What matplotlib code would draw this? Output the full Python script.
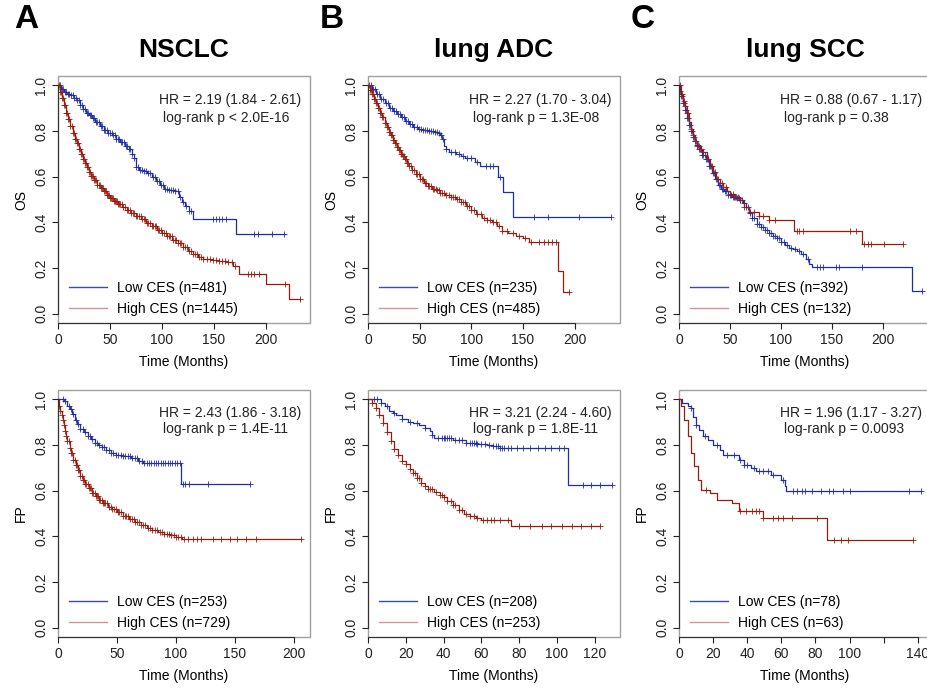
import matplotlib
matplotlib.use('Agg')
import matplotlib.pyplot as plt
from matplotlib.patches import Rectangle
from matplotlib.lines import Line2D
import numpy as np

plt.rcParams['font.family'] = ['Liberation Sans', 'DejaVu Sans']

BLUE = '#1f2fa0'
RED = '#9a1a0e'
LEG_BLUE = '#3a4ab8'
LEG_RED = '#d49494'

# ---------------- A  NSCLC  OS
a_os_low_t = [0, 3, 6, 9, 12, 15, 18, 21, 24, 27, 30, 33, 36, 40, 44, 48, 52, 56, 60, 64, 68, 71, 73, 75, 78, 83, 86, 90, 94, 98, 102, 106, 113, 116, 119, 122, 126, 130, 171, 218]
a_os_low_s = [1.0, 0.985, 0.97, 0.96, 0.955, 0.945, 0.935, 0.915, 0.895, 0.88, 0.87, 0.855, 0.84, 0.822, 0.805, 0.79, 0.78, 0.765, 0.75, 0.735, 0.72, 0.70, 0.68, 0.64, 0.63, 0.625, 0.615, 0.60, 0.582, 0.565, 0.546, 0.54, 0.539, 0.51, 0.488, 0.47, 0.45, 0.415, 0.349, 0.349]
a_os_low_c = [2, 3.5, 5, 6.5, 8, 9.5, 11, 12.5, 14, 15.5, 17, 18.5, 20, 21.5, 23, 24.5, 26, 27.5, 29, 30.5, 32, 33.5, 35, 36.5, 38, 39.5, 41, 42.5, 44, 45.5, 47, 48.5, 50, 51.5, 53, 54.5, 56, 57.5, 59, 60.5, 62, 63.5, 65, 66.5, 68, 69.5, 71, 73, 75, 77, 79, 81, 83, 85, 87, 89, 91, 93, 95, 97, 99, 101, 103, 105, 107, 109, 111, 113, 115, 117, 120, 123, 126, 128, 149, 152, 155, 158, 162, 189, 192, 206, 217]
a_os_high_t = [0, 2, 4, 6, 8, 10, 12, 14, 16, 18, 20, 22, 24, 26, 28, 30, 32, 35, 38, 41, 44, 47, 50, 54, 58, 62, 66, 70, 75, 80, 85, 90, 95, 100, 105, 110, 115, 120, 125, 130, 135, 140, 148, 155, 162, 168, 174, 200, 222, 233]
a_os_high_s = [1.0, 0.97, 0.945, 0.915, 0.88, 0.85, 0.82, 0.79, 0.765, 0.745, 0.72, 0.70, 0.677, 0.66, 0.64, 0.62, 0.604, 0.585, 0.565, 0.55, 0.535, 0.52, 0.508, 0.495, 0.48, 0.466, 0.455, 0.443, 0.429, 0.413, 0.397, 0.382, 0.368, 0.354, 0.34, 0.325, 0.308, 0.291, 0.277, 0.263, 0.25, 0.242, 0.235, 0.23, 0.226, 0.21, 0.175, 0.131, 0.066, 0.066]
a_os_high_c = [1, 2, 3, 4, 5, 6, 7, 8, 9, 10, 11, 12, 13, 14, 15, 16, 17, 18, 19, 20, 21, 22, 23, 24, 25, 26, 27, 28, 29, 30, 31, 32, 33, 34, 35, 36, 37, 38, 39, 40, 41, 42, 43, 44, 45, 46, 47, 48, 49, 50, 51, 52, 53, 54, 55, 56, 57, 58, 59, 60, 61.5, 63, 64.5, 66, 67.5, 69, 70.5, 72, 73.5, 75, 76.5, 78, 79.5, 81, 82.5, 84, 85.5, 87, 88.5, 90, 91.5, 93, 94.5, 96, 97.5, 99, 100.5, 102, 103.5, 105, 106.5, 108, 109.5, 111, 112.5, 114, 115.5, 117, 118.5, 120, 122, 124, 126, 128, 130, 132, 134, 136, 138, 140, 143, 146, 149, 152, 155, 158, 161, 164, 167, 170, 183, 186, 189, 193, 218, 233]

# ---------------- B  lung ADC  OS
b_os_low_t = [0, 4, 8, 12, 16, 20, 24, 28, 32, 36, 40, 44, 48, 52, 58, 64, 68, 70, 72, 74, 76, 78, 85, 90, 94, 104, 108, 126, 131, 140, 235]
b_os_low_s = [1.0, 0.985, 0.96, 0.94, 0.92, 0.90, 0.885, 0.875, 0.86, 0.845, 0.83, 0.815, 0.81, 0.805, 0.80, 0.795, 0.79, 0.78, 0.765, 0.735, 0.72, 0.706, 0.699, 0.69, 0.68, 0.665, 0.648, 0.597, 0.531, 0.422, 0.422]
b_os_low_c = [3, 5, 7, 9, 11, 13, 15, 17, 19, 21, 23, 25, 27, 29, 31, 33, 35, 37, 39, 41, 43, 45, 47, 49, 51, 53, 55, 57, 59, 61, 63, 65, 67, 69, 71, 73, 76, 80, 84, 88, 92, 96, 100, 106, 114, 118, 121, 128, 161, 174, 204, 235]
b_os_high_t = [0, 2, 4, 6, 8, 10, 12, 14, 16, 18, 20, 22, 24, 26, 28, 30, 32, 34, 36, 38, 40, 43, 46, 50, 54, 58, 62, 66, 70, 75, 80, 85, 90, 95, 100, 105, 110, 115, 120, 125, 130, 136, 143, 150, 156, 184, 189, 195]
b_os_high_s = [1.0, 0.98, 0.96, 0.94, 0.92, 0.90, 0.88, 0.86, 0.835, 0.815, 0.795, 0.78, 0.76, 0.745, 0.73, 0.715, 0.70, 0.69, 0.675, 0.66, 0.648, 0.63, 0.61, 0.59, 0.57, 0.558, 0.548, 0.54, 0.53, 0.52, 0.51, 0.502, 0.49, 0.473, 0.455, 0.437, 0.42, 0.41, 0.40, 0.385, 0.364, 0.355, 0.342, 0.33, 0.313, 0.189, 0.095, 0.095]
b_os_high_c = [1, 2, 3, 4, 5, 6, 7, 8, 9, 10, 11, 12, 13, 14, 15, 16, 17, 18, 19, 20, 21, 22, 23, 24, 25, 26, 27, 28, 29, 30, 31, 32, 33, 34, 35, 36, 37, 38, 39, 40, 41.5, 43, 44.5, 46, 47.5, 49, 50.5, 52, 53.5, 55, 56.5, 58, 59.5, 61, 62.5, 64, 65.5, 67, 68.5, 70, 72, 74, 76, 78, 80, 82, 84, 86, 88, 90, 92, 94, 96, 98, 100, 103, 106, 109, 112, 115, 118, 121, 124, 127, 130, 135, 140, 146, 152, 158, 166, 170, 174, 178, 182, 195]

# ---------------- C  lung SCC  OS
c_os_low_t = [0, 1, 2, 4, 6, 8, 10, 12, 14, 16, 18, 20, 23, 26, 29, 32, 35, 38, 41, 44, 48, 52, 56, 60, 63, 66, 69, 72, 76, 80, 84, 88, 92, 96, 100, 104, 108, 112, 116, 120, 124, 127, 130, 228, 238]
c_os_low_s = [1.0, 0.975, 0.953, 0.92, 0.89, 0.855, 0.825, 0.80, 0.775, 0.755, 0.74, 0.72, 0.695, 0.675, 0.645, 0.615, 0.59, 0.565, 0.548, 0.535, 0.52, 0.512, 0.505, 0.50, 0.485, 0.466, 0.44, 0.418, 0.395, 0.38, 0.365, 0.355, 0.342, 0.33, 0.312, 0.30, 0.29, 0.284, 0.275, 0.26, 0.24, 0.218, 0.204, 0.102, 0.102]
c_os_low_c = [1, 2, 3, 4, 5, 6, 7, 8, 9, 10, 11, 12, 13, 14, 15, 16, 17, 18, 19, 20, 21, 22, 23, 24, 25, 26, 27, 28, 29, 30, 31.5, 33, 34.5, 36, 37.5, 39, 40.5, 42, 43.5, 45, 46.5, 48, 49.5, 51, 52.5, 54, 55.5, 57, 58.5, 60, 62, 64, 66, 68, 70, 72, 74, 76, 78, 80, 82, 84, 86, 88, 90, 92, 94, 96, 98, 100, 103, 106, 110, 114, 118, 122, 126, 135, 138, 141, 154, 157, 179, 238]
c_os_high_t = [0, 2, 4, 6, 8, 10, 12, 14, 16, 18, 21, 24, 27, 30, 33, 36, 40, 43, 47, 50, 55, 60, 64, 69, 78, 88, 113, 179, 220]
c_os_high_s = [1.0, 0.96, 0.93, 0.91, 0.88, 0.84, 0.808, 0.78, 0.755, 0.735, 0.72, 0.706, 0.675, 0.648, 0.62, 0.59, 0.57, 0.553, 0.535, 0.524, 0.51, 0.50, 0.466, 0.444, 0.429, 0.41, 0.364, 0.306, 0.306]
c_os_high_c = [1, 2, 3, 5, 6, 8, 9, 12, 14, 16, 18, 20, 22, 24, 28, 32, 35, 38, 42, 46, 50, 53, 55, 58, 60, 64, 70, 74, 78, 82, 88, 94, 116, 118, 122, 168, 173, 181, 185, 188, 201, 220]

# ---------------- A  NSCLC  FP
a_fp_low_t = [0, 5, 8, 10, 12, 14, 16, 19, 22, 25, 28, 31, 34, 37, 41, 45, 49, 55, 62, 68, 72, 104, 163]
a_fp_low_s = [1.0, 0.99, 0.97, 0.955, 0.935, 0.91, 0.89, 0.87, 0.855, 0.84, 0.825, 0.81, 0.80, 0.79, 0.779, 0.765, 0.757, 0.75, 0.742, 0.73, 0.72, 0.63, 0.63]
a_fp_low_c = [4, 6, 9, 11, 13, 15, 17, 19, 21, 23, 25, 27, 29, 31, 33, 35, 37, 39, 41, 43, 45, 47, 49, 51, 53, 55, 57, 59, 61, 63, 65, 67, 69, 71, 73, 75, 77, 79, 81, 83, 85, 87, 89, 91, 93, 95, 97, 99, 101, 103, 106, 108, 111, 127, 163]
a_fp_high_t = [0, 1, 2, 3, 4, 5, 6, 7, 8, 10, 11, 13, 15, 17, 19, 21, 23, 26, 29, 32, 35, 38, 42, 46, 50, 55, 60, 65, 70, 75, 80, 85, 90, 95, 100, 105, 206]
a_fp_high_s = [1.0, 0.97, 0.95, 0.93, 0.91, 0.885, 0.86, 0.837, 0.815, 0.785, 0.764, 0.735, 0.71, 0.69, 0.665, 0.645, 0.63, 0.61, 0.59, 0.575, 0.56, 0.546, 0.53, 0.518, 0.506, 0.49, 0.475, 0.462, 0.45, 0.438, 0.427, 0.418, 0.41, 0.405, 0.397, 0.39, 0.39]
a_fp_high_c = [1, 2, 3, 4, 5, 6, 7, 8, 9, 10, 11, 12, 13, 14, 15, 16, 17, 18, 19, 20, 21, 22, 23, 24, 25, 26, 27, 28, 29, 30, 31, 32, 33, 34, 35, 36, 37, 38, 39, 40, 41.5, 43, 44.5, 46, 47.5, 49, 50.5, 52, 53.5, 55, 56.5, 58, 59.5, 61, 62.5, 64, 65.5, 67, 68.5, 70, 72, 74, 76, 78, 80, 82, 84, 86, 88, 90, 92, 94, 96, 98, 100, 102, 104, 107, 110, 114, 118, 121, 131, 138, 146, 152, 159, 168, 206]

# ---------------- B  lung ADC  FP
b_fp_low_t = [0, 7, 9, 11, 13, 15, 18, 21, 24, 27, 30, 33, 34, 35, 45, 52, 58, 63, 66, 70, 106, 129]
b_fp_low_s = [1.0, 0.985, 0.968, 0.95, 0.94, 0.93, 0.915, 0.90, 0.895, 0.885, 0.875, 0.86, 0.845, 0.83, 0.822, 0.808, 0.803, 0.80, 0.795, 0.786, 0.626, 0.626]
b_fp_low_c = [3, 5, 7, 10, 14, 18, 22, 26, 30, 34, 37, 39, 40, 41, 42, 43, 44, 46, 48, 50, 52, 54, 55, 56, 57, 58, 60, 62, 64, 66, 68, 69, 70, 71, 72, 74, 76, 79, 82, 86, 90, 94, 97, 101, 104, 114, 118, 123, 129]
b_fp_high_t = [0, 2, 4, 6, 8, 10, 12, 14, 16, 18, 20, 22, 24, 26, 28, 30, 32, 35, 38, 40, 42, 45, 48, 51, 54, 57, 60, 76, 123]
b_fp_high_s = [1.0, 0.985, 0.96, 0.93, 0.895, 0.855, 0.815, 0.78, 0.755, 0.73, 0.715, 0.695, 0.675, 0.655, 0.635, 0.62, 0.605, 0.595, 0.582, 0.57, 0.555, 0.535, 0.515, 0.50, 0.487, 0.48, 0.473, 0.444, 0.444]
b_fp_high_c = [2, 4, 6, 8, 10, 12, 14, 16, 18, 20, 22, 24, 25, 26, 27, 28, 30, 32, 33, 34, 36, 38, 39, 40, 42, 44, 45, 46, 48, 50, 52, 54, 56, 58, 61, 63, 65, 67, 70, 74, 80, 86, 92, 97, 103, 108, 113, 118, 123]

# ---------------- C  lung SCC  FP
c_fp_low_t = [0, 2, 5, 7, 8, 10, 12, 14, 17, 20, 24, 26, 35, 38, 42, 45, 54, 60, 62, 63, 142]
c_fp_low_s = [1.0, 0.983, 0.968, 0.96, 0.924, 0.888, 0.866, 0.837, 0.822, 0.80, 0.779, 0.757, 0.735, 0.713, 0.70, 0.684, 0.67, 0.648, 0.62, 0.597, 0.597]
c_fp_low_c = [7, 10, 15, 22, 28, 32, 36, 38, 40, 44, 47, 49, 52, 55, 61, 67, 69, 72, 74, 78, 83, 88, 90, 96, 100, 135, 142]
c_fp_high_t = [0, 1, 3, 5, 7, 9, 11, 13, 18, 22, 31, 35, 49, 87, 137]
c_fp_high_s = [1.0, 0.968, 0.91, 0.837, 0.764, 0.706, 0.648, 0.604, 0.59, 0.56, 0.546, 0.509, 0.48, 0.386, 0.386]
c_fp_high_c = [16, 36, 39, 43, 45, 47, 49, 55, 58, 61, 66, 81, 91, 95, 99, 137]

titles = ['NSCLC', 'lung ADC', 'lung SCC']
letters = ['A', 'B', 'C']
ylabels = ['OS', 'FP']
n_low = [[481, 235, 392], [253, 208, 78]]
n_high = [[1445, 485, 132], [729, 253, 63]]
hr_text = [['HR = 2.19 (1.84 - 2.61)', 'HR = 2.27 (1.70 - 3.04)', 'HR = 0.88 (0.67 - 1.17)'],
           ['HR = 2.43 (1.86 - 3.18)', 'HR = 3.21 (2.24 - 4.60)', 'HR = 1.96 (1.17 - 3.27)']]
p_text = [['log-rank p < 2.0E-16', 'log-rank p = 1.3E-08', 'log-rank p = 0.38'],
          ['log-rank p = 1.4E-11', 'log-rank p = 1.8E-11', 'log-rank p = 0.0093']]
xmax = [[242.5, 244, 247], [213.5, 133.5, 147.7]]
xticks = [[[0, 50, 100, 150, 200]] * 3,
          [[0, 50, 100, 150, 200], [0, 20, 40, 60, 80, 100, 120], [0, 20, 40, 60, 80, 100, 120, 140]]]
xticklabels = [[['0', '50', '100', '150', '200']] * 3,
               [['0', '50', '100', '150', '200'], ['0', '20', '40', '60', '80', '100', '120'],
                ['0', '20', '40', '60', '80', '100', '', '140']]]

curves = [
    [(a_os_low_t, a_os_low_s, a_os_low_c, a_os_high_t, a_os_high_s, a_os_high_c),
     (b_os_low_t, b_os_low_s, b_os_low_c, b_os_high_t, b_os_high_s, b_os_high_c),
     (c_os_low_t, c_os_low_s, c_os_low_c, c_os_high_t, c_os_high_s, c_os_high_c)],
    [(a_fp_low_t, a_fp_low_s, a_fp_low_c, a_fp_high_t, a_fp_high_s, a_fp_high_c),
     (b_fp_low_t, b_fp_low_s, b_fp_low_c, b_fp_high_t, b_fp_high_s, b_fp_high_c),
     (c_fp_low_t, c_fp_low_s, c_fp_low_c, c_fp_high_t, c_fp_high_s, c_fp_high_c)],
]


def surv_at(t, s, times):
    t = np.asarray(t)
    s = np.asarray(s)
    idx = np.searchsorted(t, times, side='right') - 1
    return s[np.clip(idx, 0, len(s) - 1)]


def km(ax, t, s, c, color):
    ax.step(t, s, where='post', color=color, lw=0.9)
    ax.plot(c, surv_at(t, s, c), ls='none', marker='+', ms=5, mew=0.7, color=color, alpha=0.85)


W, H = 928, 689
fig = plt.figure(figsize=(W / 100, H / 100), dpi=100)
lefts = [58, 368, 679]
tops = [76, 390]
aw, ah = 252, 247

for r in range(2):
    for c in range(3):
        ax = fig.add_axes([lefts[c] / W, 1 - (tops[r] + ah) / H, aw / W, ah / H])
        lt, ls_, lc, ht, hs, hc = curves[r][c]
        km(ax, lt, ls_, lc, BLUE)
        km(ax, ht, hs, hc, RED)

        ax.set_xlim(0, xmax[r][c])
        ax.set_ylim(-0.04, 1.04)
        ax.set_xticks(xticks[r][c])
        ax.set_xticklabels(xticklabels[r][c])
        ax.set_yticks([0, 0.2, 0.4, 0.6, 0.8, 1.0])
        ax.set_yticklabels(['0.0', '0.2', '0.4', '0.6', '0.8', '1.0'], rotation=90, va='center')
        ax.tick_params(direction='out', length=4, width=0.8, labelsize=10, colors='#222222')
        ax.tick_params(axis='y', pad=3)
        ax.tick_params(axis='x', pad=3)

        for sp in ['top', 'right']:
            ax.spines[sp].set_visible(False)
        ax.spines['left'].set_bounds(0, 1)
        ax.spines['bottom'].set_bounds(0, xticks[r][c][-1])
        ax.spines['left'].set_color('#333333')
        ax.spines['bottom'].set_color('#333333')
        ax.add_patch(Rectangle((0, 0), 1, 1, transform=ax.transAxes, fill=False,
                               ec='#a0a0a0', lw=1.0, clip_on=False, zorder=0))

        ax.set_ylabel(ylabels[r], fontsize=10)
        ax.yaxis.set_label_coords(-0.118, 0.5)
        ax.set_xlabel('Time (Months)', fontsize=10)
        ax.xaxis.set_label_coords(0.5, -0.128)

        hy = [0.903, 0.907][r]
        py = [0.830, 0.842][r]
        ax.text(0.40, hy, hr_text[r][c], transform=ax.transAxes, fontsize=10, va='center', color='#222222')
        ax.text(0.415, py, p_text[r][c], transform=ax.transAxes, fontsize=10, va='center', color='#222222')

        handles = [Line2D([], [], color=LEG_BLUE, lw=1.0),
                   Line2D([], [], color=LEG_RED, lw=1.0)]
        labels = ['Low CES (n=%d)' % n_low[r][c], 'High CES (n=%d)' % n_high[r][c]]
        ax.legend(handles, labels, loc='lower left', bbox_to_anchor=(0.045, 0.03),
                  frameon=False, fontsize=10, handlelength=2.7, handletextpad=0.75,
                  labelspacing=0.45, borderpad=0, borderaxespad=0)

        if r == 0:
            fig.text((lefts[c] + aw / 2) / W, 1 - 50 / H, titles[c], ha='center', va='center',
                     fontsize=19, fontweight='bold')

letter_x = [26, 332, 643]
for c in range(3):
    fig.text(letter_x[c] / W, 1 - 20 / H, letters[c], ha='center', va='center',
             fontsize=24, fontweight='bold')

fig.savefig('out.png', dpi=100)
